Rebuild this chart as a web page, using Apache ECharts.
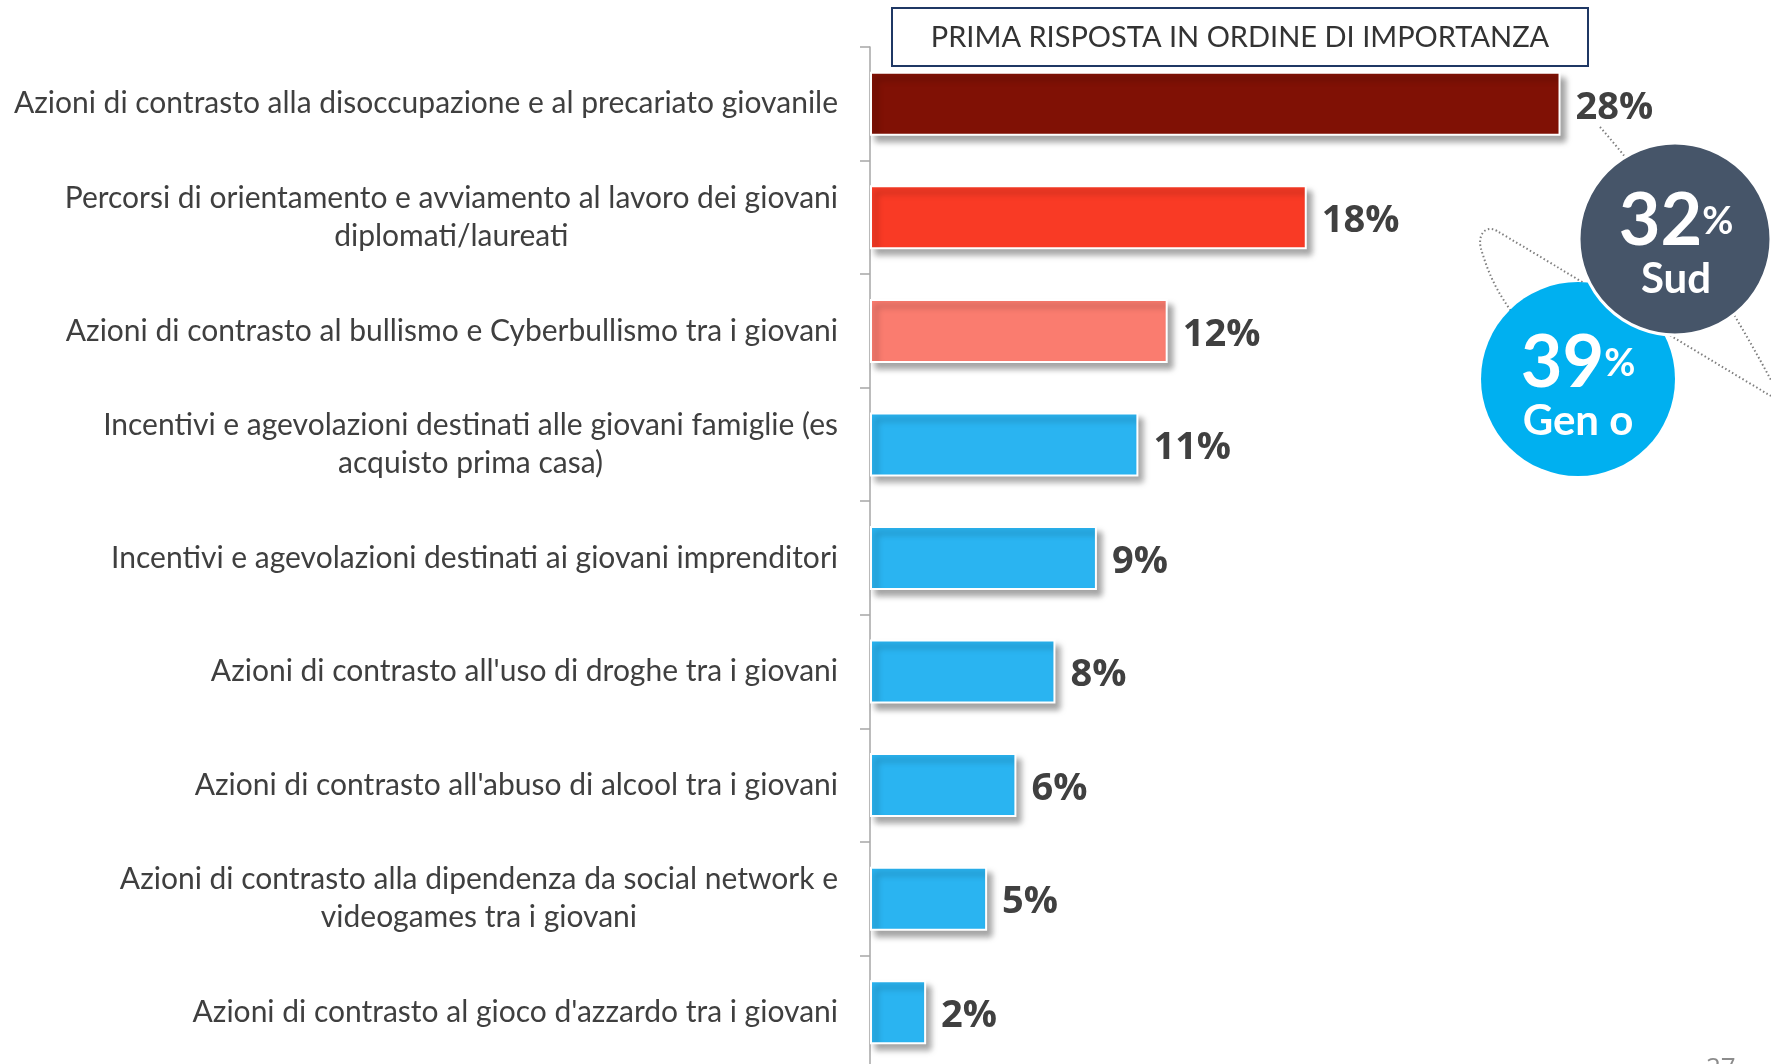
<!DOCTYPE html>
<html><head><meta charset="utf-8">
<script src="https://cdn.jsdelivr.net/npm/echarts@6/dist/echarts.min.js"></script>
<style>html,body{margin:0;padding:0;background:#fff}#c{width:1771px;height:1064px}</style>
</head><body><div id="c"></div>
<script>
const categories = [
  'Azioni di contrasto alla disoccupazione e al precariato giovanile',
  'Percorsi di orientamento e avviamento al lavoro dei giovani\ndiplomati/laureati',
  'Azioni di contrasto al bullismo e Cyberbullismo tra i giovani',
  'Incentivi e agevolazioni destinati alle giovani famiglie (es\nacquisto prima casa)',
  'Incentivi e agevolazioni destinati ai giovani imprenditori',
  "Azioni di contrasto all'uso di droghe tra i giovani",
  "Azioni di contrasto all'abuso di alcool tra i giovani",
  'Azioni di contrasto alla dipendenza da social network e\nvideogames tra i giovani',
  "Azioni di contrasto al gioco d'azzardo tra i giovani"
];
const values = [28.3, 17.9, 12.2, 11.0, 9.3, 7.6, 6.0, 4.8, 2.3];
const barColors = ['#801105', '#f93a25', '#fa7c6f', '#2ab4f1', '#2ab4f1', '#2ab4f1', '#2ab4f1', '#2ab4f1', '#2ab4f1'];
const titleText = 'PRIMA RISPOSTA IN ORDINE DI IMPORTANZA';
const bubbleValues = ['32', '39'];
const bubbleNames = ['Sud', 'Gen o'];
const pageNumber = '27';

const narrow = "'Liberation Sans Narrow', 'Lato', sans-serif";
const chart = echarts.init(document.getElementById('c'), null, {renderer: 'canvas'});

const bubbleText = (v, name) => '{big|' + v + '}{pct|%}\n{nm|' + name + '}';
const bubbleRich = {
  big: {fontSize: 72, fontWeight: 'bold', fill: '#ffffff', fontFamily: narrow, lineHeight: 62},
  pct: {fontSize: 38, fontWeight: 'bold', fill: '#ffffff', fontFamily: narrow, lineHeight: 62},
  nm: {fontSize: 42, fontWeight: 'bold', fill: '#ffffff', fontFamily: narrow, lineHeight: 52, align: 'center'}
};
const dotted = {fill: 'none', stroke: '#7f7f7f', lineWidth: 2, lineDash: [1.5, 2.5]};

chart.setOption({
  animation: false,
  grid: {left: 870, top: 47, width: 732, height: 1022, containLabel: false, outerBoundsMode: 'none'},
  xAxis: {type: 'value', min: 0, max: 30, show: false},
  yAxis: {
    type: 'category',
    inverse: true,
    data: categories,
    axisLine: {show: true, lineStyle: {color: '#a6a6a6', width: 1.5}},
    axisTick: {show: true, length: 10, lineStyle: {color: '#a6a6a6', width: 1.5}},
    axisLabel: {
      margin: 32,
      align: 'right',
      formatter: v => v.split('\n').map(l => '{c|' + l + '}').join('\n'),
      rich: {c: {fontSize: 30, lineHeight: 38, color: '#3f3f3f', fontFamily: narrow, align: 'center'}}
    }
  },
  series: [{
    type: 'bar',
    barWidth: 64,
    data: values.map((v, i) => ({value: v, itemStyle: {color: barColors[i]}})),
    itemStyle: {
      borderColor: '#ffffff', borderWidth: 2,
      shadowBlur: 6, shadowOffsetX: 5, shadowOffsetY: 6, shadowColor: 'rgba(0,0,0,0.35)'
    },
    label: {
      show: true, position: 'right', distance: 15,
      formatter: p => Math.round(p.value) + '%',
      fontSize: 38, fontWeight: 'bold', color: '#404040', fontFamily: "'Open Sans', sans-serif",
      offset: [0, 4]
    }
  }],
  graphic: [
    {type: 'rect', z: 10, shape: {x: 892, y: 8, width: 696, height: 58},
      style: {fill: '#fff', stroke: '#1f3864', lineWidth: 2}},
    {type: 'text', z: 11, x: 1240, y: 38,
      style: {text: titleText, fontSize: 29, fill: '#333', fontFamily: narrow, align: 'center', verticalAlign: 'middle'}},
    {type: 'bezierCurve', z: 5, shape: {x1: 1600, y1: 127, cpx1: 1690, cpy1: 230, x2: 1771, y2: 380}, style: dotted},
    {type: 'bezierCurve', z: 5, shape: {x1: 1771, y1: 396, cpx1: 1680, cpy1: 342, cpx2: 1560, cpy2: 268, x2: 1497, y2: 231}, style: dotted},
    {type: 'bezierCurve', z: 5, shape: {x1: 1497, y1: 231, cpx1: 1485, cpy1: 224, cpx2: 1476, cpy2: 236, x2: 1482, y2: 252}, style: dotted},
    {type: 'bezierCurve', z: 5, shape: {x1: 1482, y1: 252, cpx1: 1490, cpy1: 278, cpx2: 1500, cpy2: 300, x2: 1530, y2: 335}, style: dotted},
    {type: 'circle', z: 6, shape: {cx: 1578, cy: 379, r: 97}, style: {fill: '#00b0f0'}},
    {type: 'circle', z: 7, shape: {cx: 1675, cy: 239, r: 96}, style: {fill: '#465569', stroke: '#fff', lineWidth: 3}},
    {type: 'text', z: 8, x: 1676, y: 248,
      style: {text: bubbleText(bubbleValues[0], bubbleNames[0]), rich: bubbleRich, fill: '#ffffff', align: 'center', verticalAlign: 'middle'}},
    {type: 'text', z: 8, x: 1578, y: 390,
      style: {text: bubbleText(bubbleValues[1], bubbleNames[1]), rich: bubbleRich, fill: '#ffffff', align: 'center', verticalAlign: 'middle'}},
    {type: 'text', z: 8, x: 1706, y: 1056,
      style: {text: pageNumber, fontSize: 26, fill: '#8c8c8c', fontFamily: "'Open Sans', sans-serif", verticalAlign: 'top'}}
  ]
});
</script></body></html>
